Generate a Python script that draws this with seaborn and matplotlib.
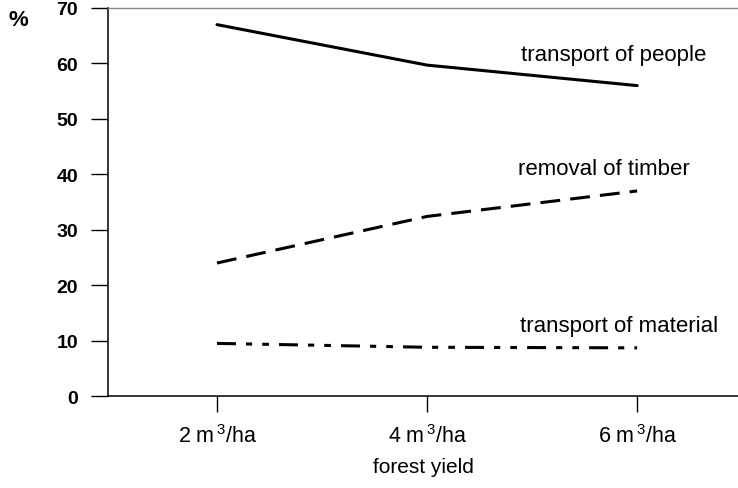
import pandas as pd
import seaborn as sns
import matplotlib.pyplot as plt

# values
yields = ['2 m$^{\\,3}$/ha', '4 m$^{\\,3}$/ha', '6 m$^{\\,3}$/ha']
people = [67, 59.7, 56]
timber = [24, 32.4, 37]
material = [9.5, 8.8, 8.7]
series_names = ['transport of people', 'removal of timber', 'transport of material']

df = pd.DataFrame({
    'yield': list(range(len(yields))) * 3,
    'share': people + timber + material,
    'series': [n for n in series_names for _ in yields],
})

sns.set_theme(style='ticks')
plt.rcParams['font.family'] = ['Liberation Sans', 'DejaVu Sans']
plt.rcParams['mathtext.fontset'] = 'custom'
plt.rcParams['mathtext.rm'] = 'Liberation Sans'
plt.rcParams['mathtext.it'] = 'Liberation Sans'
plt.rcParams['text.color'] = 'black'
plt.rcParams['xtick.color'] = 'black'
plt.rcParams['ytick.color'] = 'black'
plt.rcParams['axes.labelcolor'] = 'black'

fig = plt.figure(figsize=(7.38, 4.89), dpi=100)
ax = fig.add_axes([0.1463, 0.188, 0.8537, 0.7936])

dashes = {
    'transport of people': '',
    'removal of timber': (6.5, 3.3),
    'transport of material': (6.2, 3.3, 2.0, 3.3, 2.2, 3.3),
}
sns.lineplot(data=df, x='yield', y='share', hue='series', style='series',
             palette=['black'] * 3, dashes=dashes, linewidth=2.2,
             legend=False, ax=ax)

ax.set_xlim(-0.519, 2.48)
ax.set_ylim(0, 70)
ax.set_xticks(range(len(yields)))
ax.set_xticklabels(yields, fontsize=15.5)
ax.set_yticks(range(0, 71, 10))
ax.set_yticklabels([str(v) for v in range(0, 71, 10)], fontsize=14, fontweight='bold')
ax.tick_params(axis='y', length=12.5, width=1, pad=9)
ax.tick_params(axis='x', length=11.5, width=1, pad=9)
ax.set_xlabel('forest yield', fontsize=15, labelpad=7)
ax.set_ylabel('')

for side in ['left', 'bottom']:
    ax.spines[side].set_color('black')
    ax.spines[side].set_linewidth(1.1)
ax.spines['top'].set_color('#888888')
ax.spines['top'].set_linewidth(1)
ax.spines['right'].set_visible(False)

# series labels beside the lines
label_pos = [(1.448, 61.7), (1.433, 41.0), (1.443, 12.8)]
for name, (lx, ly) in zip(series_names, label_pos):
    ax.text(lx, ly, name, fontsize=16, va='center', ha='left')

fig.text(0.011, 0.958, '%', fontsize=16, fontweight='bold', va='center', ha='left')

fig.savefig('out.png', dpi=100)
